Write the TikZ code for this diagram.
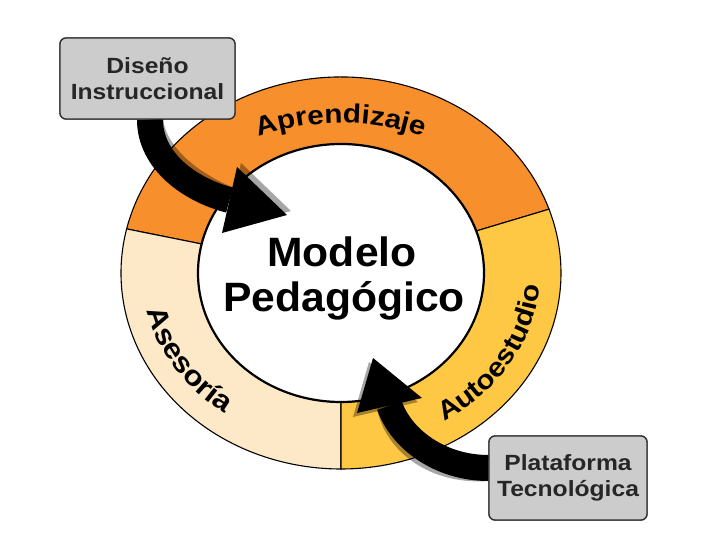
\documentclass[tikz,border=0pt]{standalone}
\usepackage{fontspec}
\setmainfont{Liberation Sans}
\newfontfamily\widefont[FakeStretch=1.12]{Liberation Sans}
\newfontfamily\centerfont[FakeStretch=1.04]{Liberation Sans}
\usetikzlibrary{decorations.text,calc}
\definecolor{ringorange}{RGB}{247,144,44}
\definecolor{ringyellow}{RGB}{255,200,68}
\definecolor{ringcream}{RGB}{253,233,200}
\definecolor{boxgray}{RGB}{204,204,204}
\definecolor{boxline}{RGB}{50,50,50}
\begin{document}
\begin{tikzpicture}[x=1pt,y=1pt,
  sector/.style={draw=black,line width=1.1pt},
  infobox/.style={draw=boxline,fill=boxgray,rounded corners=6pt,line width=1.3pt,inner sep=0pt},
  boxtext/.style={font=\widefont\bfseries\fontsize{22}{26}\selectfont,text=black!85,align=center},
  centertext/.style={font=\centerfont\bfseries\fontsize{41}{45}\selectfont,anchor=base},
  shaft/.style={line width=26pt},
  shadowcol/.style={black,opacity=0.35},
  ringlabel/.style={decorate,decoration={text along path,text align=center,text={#1}}}
]
\useasboundingbox (0,0) rectangle (728,546);
\coordinate (C) at (341,273);
% ring sectors
\draw[sector,fill=ringorange] ($(C)+(19:220 and 196)$) arc[start angle=19,end angle=167,x radius=220,y radius=196]
  -- ($(C)+(167:143 and 129)$) arc[start angle=167,end angle=19,x radius=143,y radius=129] -- cycle;
\draw[sector,fill=ringcream] ($(C)+(167:220 and 196)$) arc[start angle=167,end angle=270,x radius=220,y radius=196]
  -- ($(C)+(270:143 and 129)$) arc[start angle=270,end angle=167,x radius=143,y radius=129] -- cycle;
\draw[sector,fill=ringyellow] ($(C)+(-90:220 and 196)$) arc[start angle=-90,end angle=19,x radius=220,y radius=196]
  -- ($(C)+(19:143 and 129)$) arc[start angle=19,end angle=-90,x radius=143,y radius=129] -- cycle;
\draw[line width=2.2pt,fill=white] (C) ellipse[x radius=143,y radius=129];
% ring labels
\path[ringlabel={|\widefont\bfseries\fontsize{26.5}{30}\selectfont|Aprendizaje}]
  (341,173) ++(125:250) arc[start angle=125,end angle=55,radius=250];
\path[ringlabel={|\widefont\bfseries\fontsize{26.5}{30}\selectfont|Autoestudio}]
  ($(C)+(-75:199 and 173)$) arc[start angle=-75,end angle=14,x radius=199,y radius=173];
\path[ringlabel={|\widefont\bfseries\fontsize{28}{30}\selectfont|Asesoría}]
  ($(C)+(166:199 and 173)$) arc[start angle=166,end angle=258,x radius=199,y radius=173];
% center text
\node[centertext] (m1) at (342,279) {Modelo};
\node[centertext] (m2) at (344,234) {Pedagógico};
% boxes (positions)
\path (147.5,467.5) coordinate (dispos) (568,68) coordinate (platpos);
\node[infobox,minimum width=175pt,minimum height=81pt] (dis0) at (dispos) {};
\node[infobox,minimum width=158pt,minimum height=84pt] (plat0) at (platpos) {};
\coordinate (S1) at ($(dis0.south)+(2.5,0)$);
\coordinate (B1) at (229.5,346);
\coordinate (S2) at ($(plat0.west)+(0,10)$);
\coordinate (B2) at (389.5,140.5);
% shadows
\begin{scope}[shift={(4,4)}]
  \draw[shaft,shadowcol] (S1) .. controls (150,385) and (190,356) .. (B1);
  \fill[shadowcol] (237,379) -- (287,331) -- (222,313) -- cycle;
\end{scope}
\begin{scope}[shift={(-4,-4)}]
  \draw[shaft,shadowcol] (S2) .. controls (440,78) and (401,107) .. (B2);
  \fill[shadowcol] (422,148) -- (373,188) -- (357,133) -- cycle;
\end{scope}
% arrows
\draw[shaft,black] (S1) .. controls (150,385) and (190,356) .. (B1);
\fill[black] (237,379) -- (287,331) coordinate (T1) -- (222,313) -- cycle;
\draw[shaft,black] (S2) .. controls (440,78) and (401,107) .. (B2);
\fill[black] (422,148) -- (373,188) coordinate (T2) -- (357,133) -- cycle;
% boxes
\node[infobox,boxtext,minimum width=175pt,minimum height=81pt] (dis) at (dispos) {Diseño\\Instruccional};
\node[infobox,boxtext,minimum width=158pt,minimum height=84pt] (plat) at (platpos) {Plataforma\\Tecnológica};
\end{tikzpicture}
\end{document}
